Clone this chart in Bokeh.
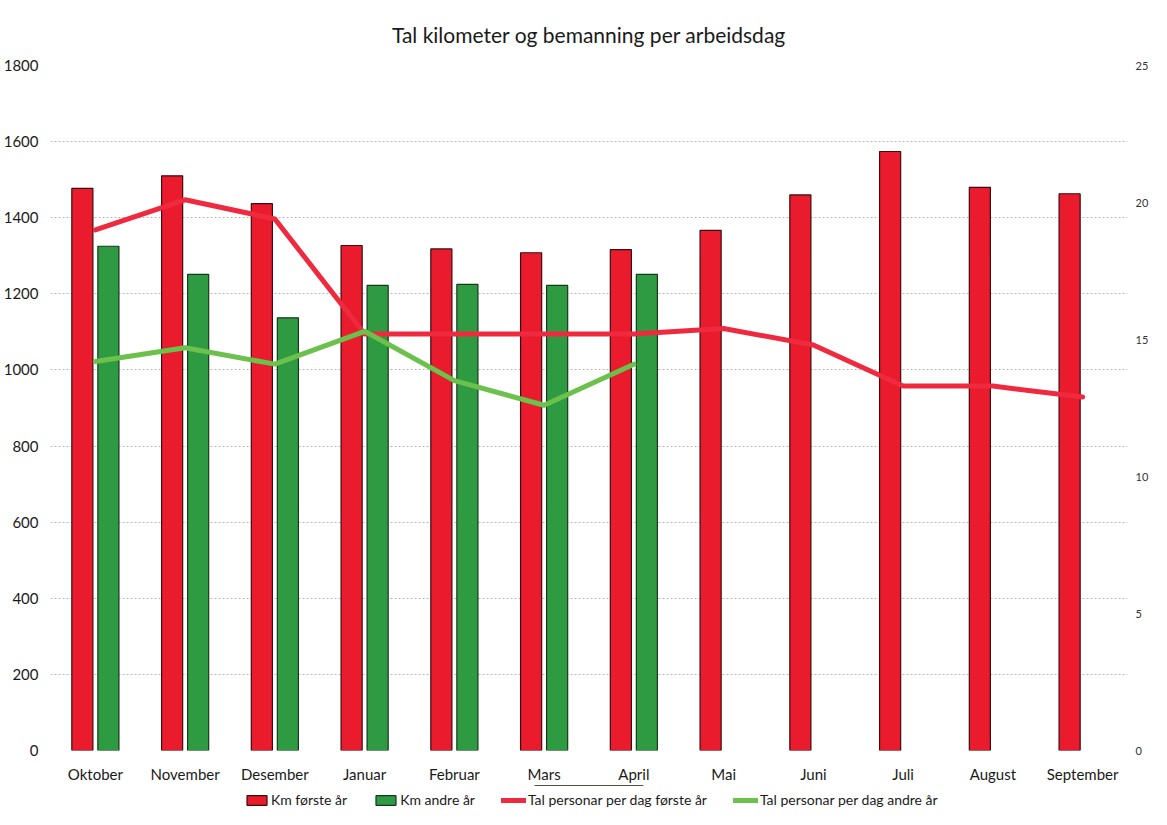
from bokeh.plotting import figure
from bokeh.layouts import column
from bokeh.models import (Range1d, LinearAxis, FixedTicker, Legend, LegendItem,
                          ColumnDataSource)
from bokeh.transform import dodge
from bokeh.embed import file_html
from bokeh.resources import INLINE

months = ["Oktober", "November", "Desember", "Januar", "Februar", "Mars",
          "April", "Mai", "Juni", "Juli", "August", "September"]
km_forste = [1477, 1510, 1437, 1327, 1318, 1308, 1316, 1367, 1460, 1574, 1480, 1463]
km_andre = [1325, 1251, 1137, 1222, 1225, 1222, 1251]
pers_forste = [19.0, 20.1, 19.4, 15.2, 15.2, 15.2, 15.2, 15.4, 14.8, 13.3, 13.3, 12.9]
pers_andre = [14.2, 14.7, 14.1, 15.3, 13.5, 12.6, 14.1]
left_ticks = [0, 200, 400, 600, 800, 1000, 1200, 1400, 1600, 1800]
right_ticks = [0, 5, 10, 15, 20, 25]
legend_labels = ["Km første år", "Km andre år",
                 "Tal personar per dag første år", "Tal personar per dag andre år"]

FONT = "Lato"
RED_BAR = "#E91B2D"
GREEN_BAR = "#2E9A42"
RED_LINE = "#F02A3E"
GREEN_LINE = "#6CC04C"
RED_EDGE = "#3a0d10"
GREEN_EDGE = "#17381c"

p = figure(x_range=months, y_range=Range1d(0, 1800),
           width=1151, height=785,
           output_backend="svg", toolbar_location=None,
           min_border_left=45, min_border_right=10, min_border_top=58,
           min_border_bottom=30)
p.extra_y_ranges = {"right": Range1d(0, 25)}

p.title.text = "Tal kilometer og bemanning per arbeidsdag"
p.title.align = "center"
p.title.text_font = FONT
p.title.text_font_size = "21px"
p.title.text_font_style = "normal"
p.title.text_color = "#1a1a1a"
p.title.standoff = 38

src1 = ColumnDataSource(dict(m=months, v=km_forste))
src2 = ColumnDataSource(dict(m=months[:len(km_andre)], v=km_andre))

p.vbar(x=dodge("m", -0.145, range=p.x_range), top="v", width=0.235, source=src1,
       fill_color=RED_BAR, line_color=RED_EDGE, line_width=1.2)
p.vbar(x=dodge("m", 0.145, range=p.x_range), top="v", width=0.235, source=src2,
       fill_color=GREEN_BAR, line_color=GREEN_EDGE, line_width=1.2)
p.line(x=months, y=pers_forste, y_range_name="right", line_color=RED_LINE,
       line_width=5, line_cap="round", line_join="round")
p.line(x=months[:len(pers_andre)], y=pers_andre, y_range_name="right",
       line_color=GREEN_LINE, line_width=5, line_cap="round", line_join="round")

p.outline_line_color = None
p.xgrid.visible = False
p.ygrid.ticker = FixedTicker(ticks=left_ticks)
p.ygrid.grid_line_color = "#b8b8b8"
p.ygrid.grid_line_dash = "2 2"
p.ygrid.grid_line_width = 1

ya = p.yaxis[0]
ya.ticker = FixedTicker(ticks=left_ticks)
ya.axis_line_color = None
ya.major_tick_line_color = None
ya.minor_tick_line_color = None
ya.major_tick_out = 0
ya.major_tick_in = 0
ya.axis_label_standoff = 0
ya.major_label_text_font = FONT
ya.major_label_text_font_size = "15px"
ya.major_label_text_color = "#1a1a1a"
ya.major_label_standoff = 12

xa = p.xaxis[0]
xa.axis_line_color = None
xa.major_tick_line_color = None
xa.major_tick_out = 0
xa.major_tick_in = 0
xa.axis_label_standoff = 0
xa.major_label_text_font = FONT
xa.major_label_text_font_size = "15px"
xa.major_label_text_color = "#1a1a1a"
xa.major_label_standoff = 14

ra = LinearAxis(y_range_name="right", ticker=FixedTicker(ticks=right_ticks))
ra.axis_line_color = None
ra.major_tick_line_color = None
ra.minor_tick_line_color = None
ra.major_tick_out = 0
ra.major_tick_in = 0
ra.axis_label_standoff = 0
ra.major_label_text_font = FONT
ra.major_label_text_font_size = "11px"
ra.major_label_text_color = "#333333"
ra.major_label_standoff = 8
p.add_layout(ra, "right")

# legend strip below the chart (swatch renderers sit above the visible canvas)
q = figure(width=1151, height=24, x_range=Range1d(0, 1), y_range=Range1d(0, 1),
           output_backend="svg", toolbar_location=None,
           x_axis_location=None, y_axis_location=None,
           min_border_left=0, min_border_right=0, min_border_top=0, min_border_bottom=0)
q.outline_line_color = None
q.xgrid.visible = False
q.ygrid.visible = False
l1 = q.vbar(x=[0.5], bottom=[50], top=[60], width=0.1,
            fill_color=RED_BAR, line_color=RED_EDGE, line_width=1.2)
l2 = q.vbar(x=[0.5], bottom=[50], top=[60], width=0.1,
            fill_color=GREEN_BAR, line_color=GREEN_EDGE, line_width=1.2)
l3 = q.line(x=[0.4, 0.6], y=[50, 50], line_color=RED_LINE, line_width=5, line_cap="round")
l4 = q.line(x=[0.4, 0.6], y=[50, 50], line_color=GREEN_LINE, line_width=5, line_cap="round")

legend = Legend(items=[LegendItem(label=t, renderers=[r])
                       for t, r in zip(legend_labels, [l1, l2, l3, l4])],
                orientation="horizontal", location=(194, 1))
legend.label_text_font = FONT
legend.label_text_font_size = "14px"
legend.label_text_color = "#1a1a1a"
legend.label_height = 16
legend.glyph_width = 25
legend.glyph_height = 12
legend.label_standoff = 2
legend.spacing = 26
legend.padding = 0
legend.margin = 0
legend.border_line_color = None
legend.background_fill_alpha = 0
q.add_layout(legend)

layout = column(p, q)
open("out.html", "w").write(file_html(layout, INLINE))
